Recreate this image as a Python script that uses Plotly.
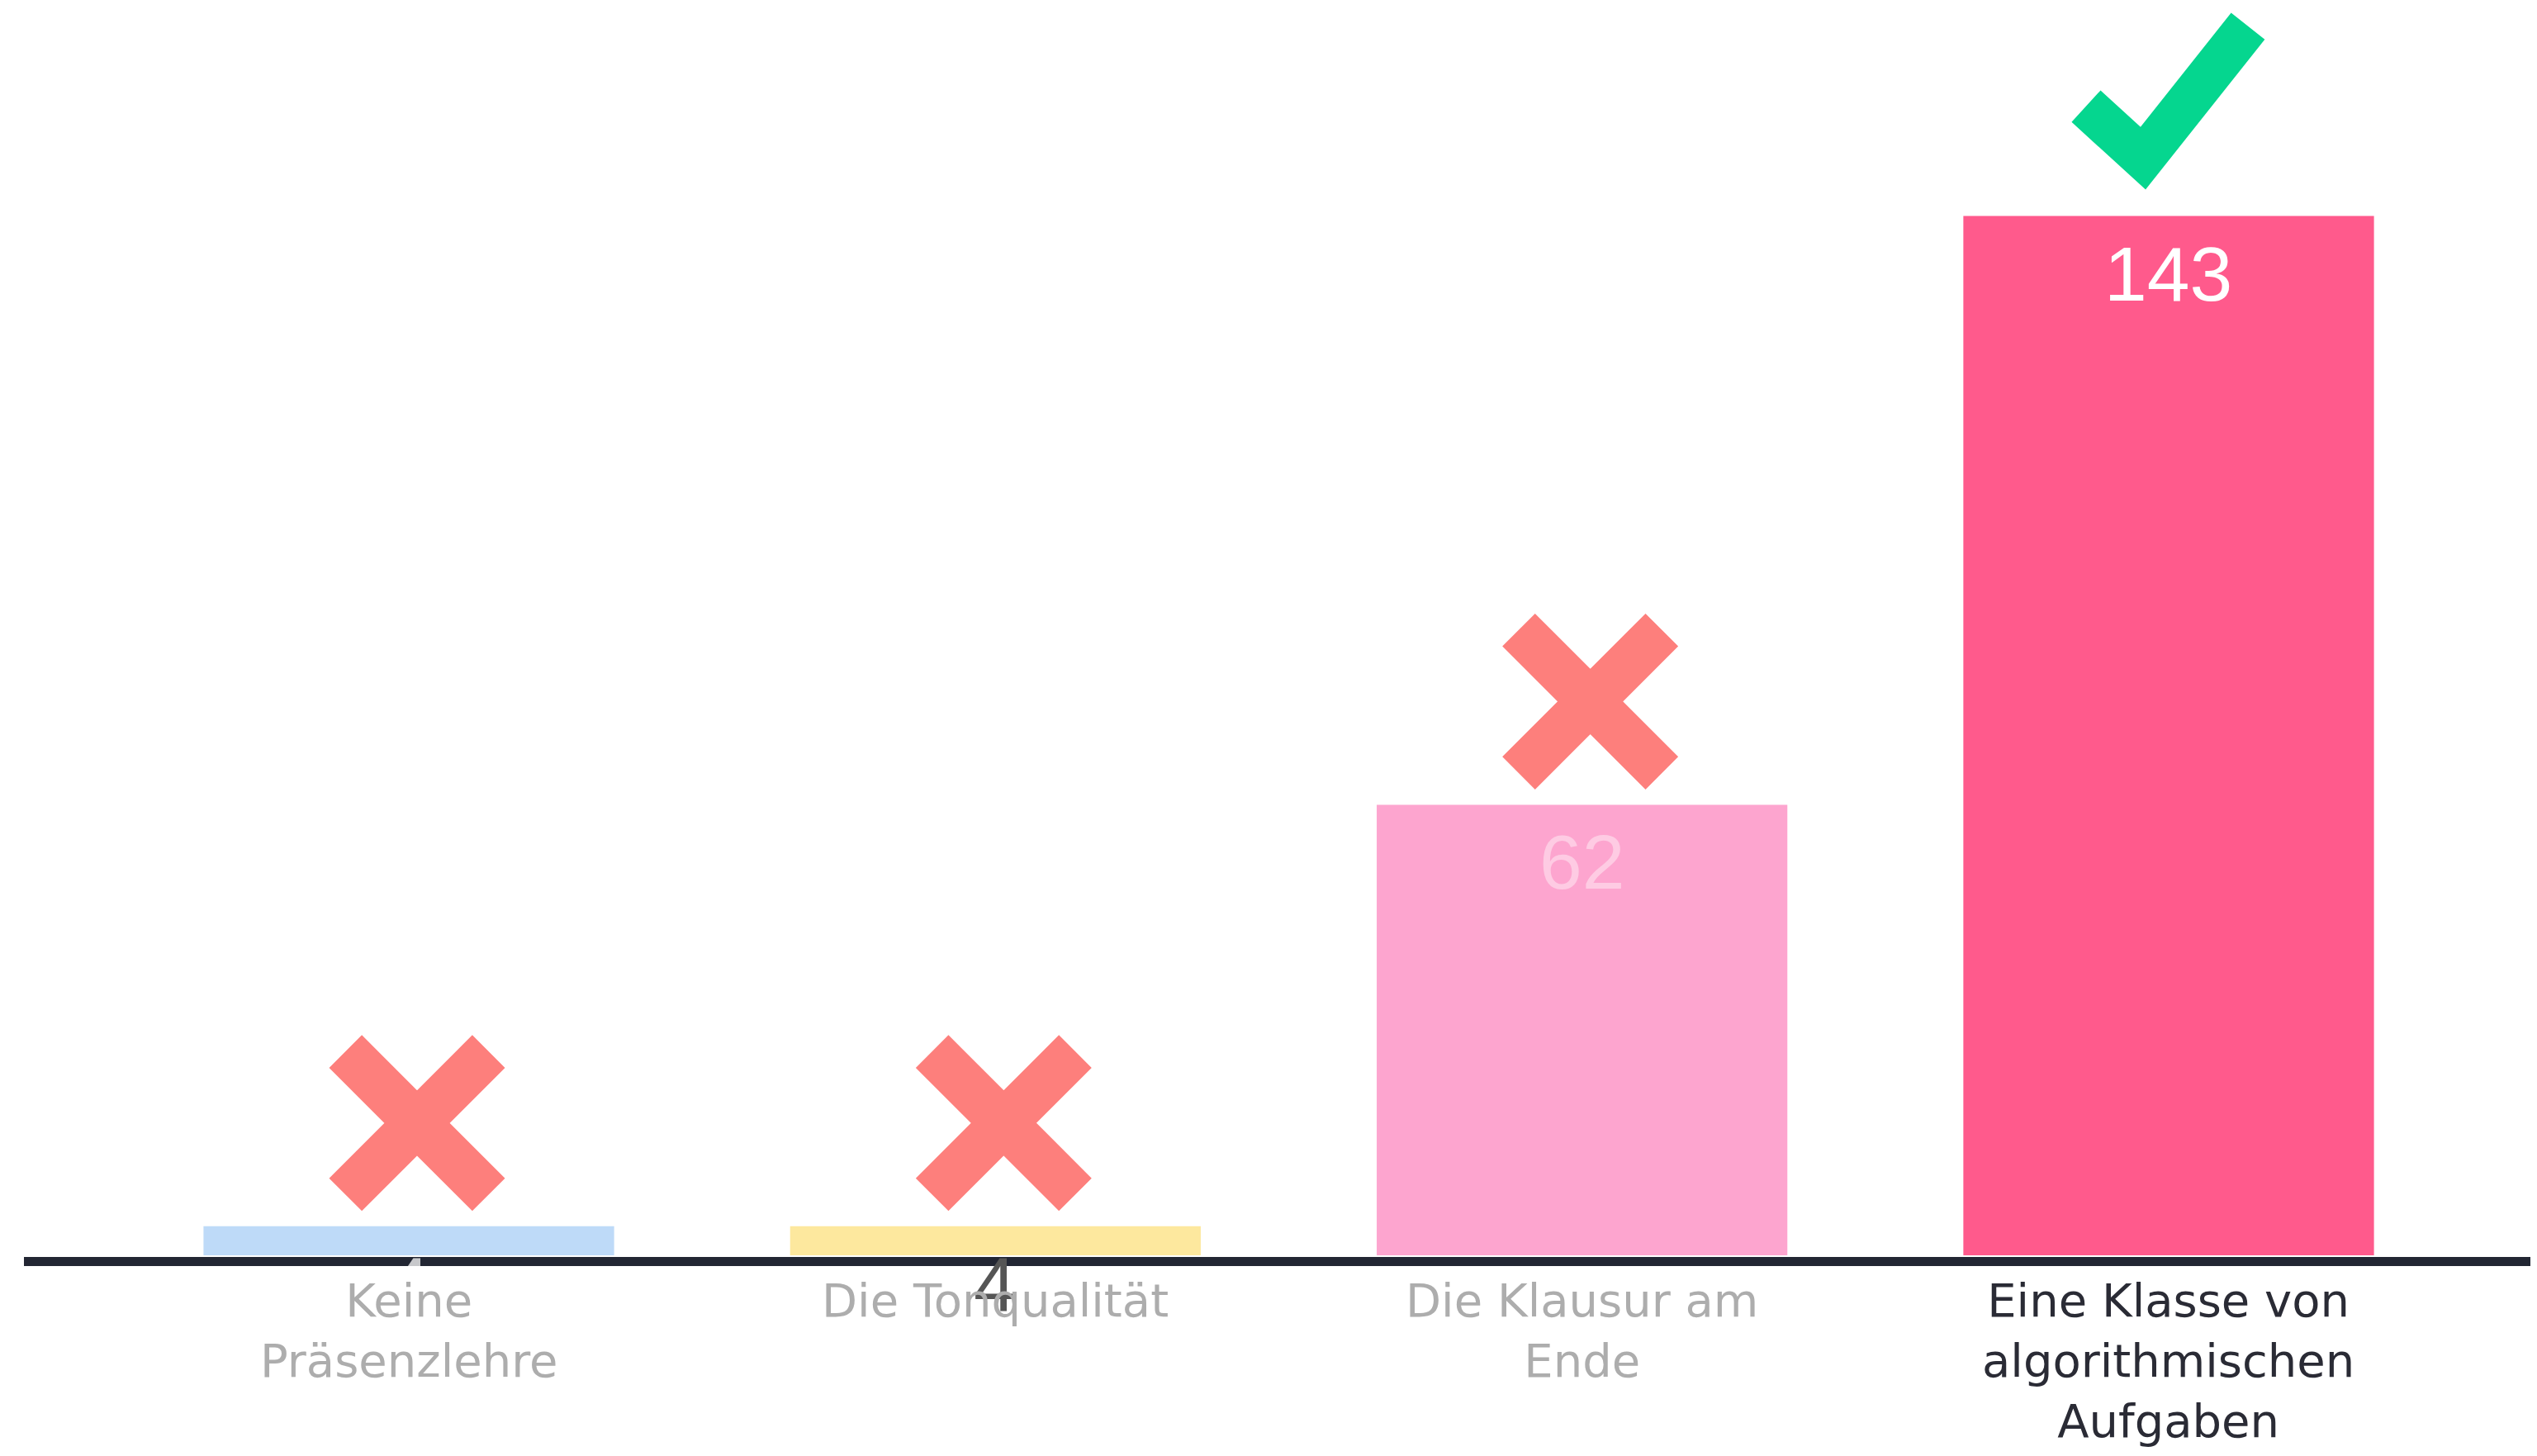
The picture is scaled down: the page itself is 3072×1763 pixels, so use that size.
import plotly.graph_objects as go

categories = ["Keine<br>Präsenzlehre", "Die Tonqualität", "Die Klausur am<br>Ende",
              "Eine Klasse von<br>algorithmischen<br>Aufgaben"]
values = [4, 4, 62, 143]
correct = [False, False, False, True]

bar_colors = ["#bedaf8", "#fde89e", "#fda5cf", "#ff5a8c"]
value_colors = ["rgba(255,255,255,0.75)", "#555555", "rgba(255,255,255,0.42)", "#ffffff"]
label_colors = ["#adadad", "#adadad", "#adadad", "#2a2b35"]

# page body has an 8px margin; keep the figure inside the viewport
OFF = 8
W, H = 3072 - 2 * OFF, 1763 - 2 * OFF
xs = list(range(len(categories)))

fig = go.Figure()
fig.add_trace(go.Bar(
    x=xs, y=values, marker=dict(color=bar_colors, line=dict(width=0)),
    width=0.7, hoverinfo="skip", showlegend=False,
))

shapes = []
shapes.append(dict(type="line", xref="paper", x0=0, x1=1, yref="y",
                   ysizemode="pixel", yanchor=0, y0=-7.5, y1=-7.5,
                   line=dict(color="#222633", width=11), layer="above"))

X_W = 56
X_HALF = 106.5 - 0.354 * X_W
X_COLOR = "#fd7f7c"
CHECK_COLOR = "#05d68f"
for i, v in enumerate(values):
    if correct[i]:
        path = "M -100,133 L -31,70 L 96,230"
        shapes.append(dict(type="path", xref="x", yref="y",
                           xsizemode="pixel", ysizemode="pixel",
                           xanchor=i, yanchor=v, path=path,
                           line=dict(color=CHECK_COLOR, width=52),
                           fillcolor="rgba(0,0,0,0)", layer="above"))
    else:
        cx, cy = 10, 125
        path = (f"M {cx-X_HALF},{cy-X_HALF} L {cx+X_HALF},{cy+X_HALF} "
                f"M {cx-X_HALF},{cy+X_HALF} L {cx+X_HALF},{cy-X_HALF}")
        shapes.append(dict(type="path", xref="x", yref="y",
                           xsizemode="pixel", ysizemode="pixel",
                           xanchor=i, yanchor=v, path=path,
                           line=dict(color=X_COLOR, width=X_W),
                           fillcolor="rgba(0,0,0,0)", layer="above"))

annotations = []
for i, v in enumerate(values):
    annotations.append(dict(
        x=i, y=v, xref="x", yref="y", text=str(v), showarrow=False,
        yanchor="top", yshift=-16,
        font=dict(family="Liberation Sans, Arial", size=93, color=value_colors[i]),
    ))
for i, lab in enumerate(categories):
    annotations.append(dict(
        x=i, y=0, xref="x", yref="y", text=lab, showarrow=False,
        yanchor="top", yshift=-20, align="center",
        font=dict(family="DejaVu Sans", size=56, color=label_colors[i]),
    ))

k = 8.8
zero_px = 1520 - OFF
ymin = -(H - zero_px) / k
ymax = ymin + H / k
left = 29 - OFF
spacing = 710.3
x0 = -(495 - 29) / spacing
x1 = 3 + (W + OFF - 2626) / spacing

fig.update_layout(
    width=W, height=H,
    margin=dict(l=left, r=0, t=0, b=0),
    paper_bgcolor="white", plot_bgcolor="white",
    xaxis=dict(range=[x0, x1], visible=False, fixedrange=True),
    yaxis=dict(range=[ymin, ymax], visible=False, fixedrange=True),
    shapes=shapes, annotations=annotations,
    bargap=0.3,
)
fig.write_html("out.html")
